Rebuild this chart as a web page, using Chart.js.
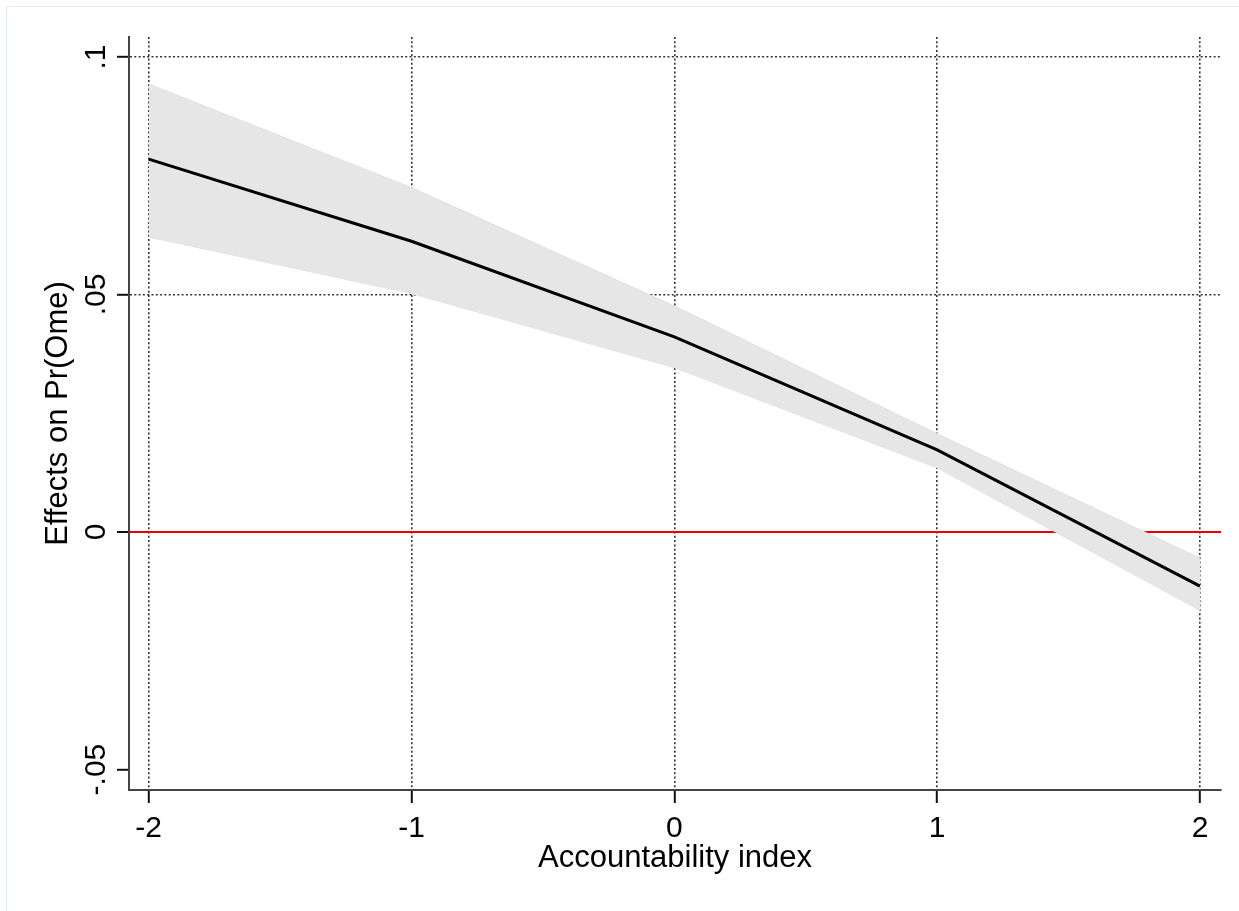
<!DOCTYPE html>
<html>
<head>
<meta charset="utf-8">
<script src="https://cdn.jsdelivr.net/npm/chart.js@4"></script>
<style>
  body { margin: 0; background: #fff; }
  #wrap { position: relative; width: 1239px; height: 911px; }
  #frame { position: absolute; left: 6px; top: 6px; right: 0; bottom: 0;
           border-left: 1px solid #e4ecf0; border-top: 1px solid #e4ecf0; }
  canvas { position: absolute; left: 0; top: 0; }
</style>
</head>
<body>
<div id="wrap">
  <div id="frame"></div>
  <canvas id="chart" width="1239" height="911"></canvas>
</div>
<script>
// marginal effect over the accountability index, with its confidence band
var xValues = [-2, -1, 0, 1, 2];
var effect  = [0.0785, 0.0612, 0.0411, 0.0173, -0.0114];
var upperCI = [0.0943, 0.0725, 0.0476, 0.0207, -0.0055];
var lowerCI = [0.0621, 0.0502, 0.0346, 0.0135, -0.0165];

var xTicks = [-2, -1, 0, 1, 2];
var yTicks = [-0.05, 0, 0.05, 0.1];
var yTickLabels = ["-.05", "0", ".05", ".1"];

var FONT = '"Liberation Sans", Arial, sans-serif';

function points(ys) {
    return xValues.map(function (x, i) { return { x: x, y: ys[i] }; });
}

// y tick labels in Stata are turned on their side, Chart.js can't do that itself
var rotatedYLabels = {
    id: 'rotatedYLabels',
    afterDraw: function (chart) {
        var scale = chart.scales.y;
        var ctx = chart.ctx;
        var baseX = scale.right - 12 - 12;
        ctx.save();
        ctx.fillStyle = '#000';
        ctx.font = '30px ' + FONT;
        ctx.textAlign = 'center';
        ctx.textBaseline = 'alphabetic';
        for (var i = 0; i < yTicks.length; i++) {
            var py = scale.getPixelForValue(yTicks[i]);
            ctx.save();
            ctx.translate(baseX, py);
            ctx.rotate(-Math.PI / 2);
            ctx.fillText(yTickLabels[i], 0, 0);
            ctx.restore();
        }
        ctx.restore();
    }
};

var ctx = document.getElementById('chart').getContext('2d');
var chart = new Chart(ctx, {
    type: 'line',
    data: {
        datasets: [
            {
                label: 'effect',
                data: points(effect),
                borderColor: '#000',
                borderWidth: 3,
                pointRadius: 0,
                tension: 0,
                fill: false,
                order: 0
            },
            {
                label: 'upper',
                data: points(upperCI),
                borderColor: '#e0e0e0',
                borderWidth: 1,
                backgroundColor: '#e6e6e6',
                pointRadius: 0,
                tension: 0,
                fill: '+1',
                order: 1
            },
            {
                label: 'lower',
                data: points(lowerCI),
                borderColor: '#e0e0e0',
                borderWidth: 1,
                pointRadius: 0,
                tension: 0,
                fill: false,
                order: 2
            }
        ]
    },
    options: {
        responsive: false,
        animation: false,
        layout: { padding: { left: 0, top: 37, right: 18, bottom: 0 } },
        plugins: {
            legend: { display: false },
            tooltip: { enabled: false }
        },
        scales: {
            x: {
                type: 'linear',
                min: -2.075,
                max: 2.08,
                afterBuildTicks: function (scale) {
                    scale.ticks = xTicks.map(function (v) { return { value: v }; });
                },
                afterFit: function (scale) { scale.height = 121; },
                grid: {
                    color: '#333',
                    lineWidth: 1.6,
                    tickLength: 13,
                    tickColor: '#111',
                    tickWidth: 2
                },
                border: { display: true, color: '#444', width: 2, dash: [2, 2.3] },
                ticks: {
                    color: '#000',
                    padding: 8,
                    font: { family: FONT, size: 30 },
                    callback: function (v) { return String(v); }
                },
                title: {
                    display: true,
                    text: 'Accountability index',
                    color: '#000',
                    font: { family: FONT, size: 31 },
                    padding: { top: 0, bottom: 34 }
                }
            },
            y: {
                type: 'linear',
                min: -0.0543,
                max: 0.1042,
                afterBuildTicks: function (scale) {
                    scale.ticks = yTicks.map(function (v) { return { value: v }; });
                },
                afterFit: function (scale) { scale.width = 129; },
                grid: {
                    color: function (c) {
                        if (!c.tick) return '#333';
                        if (c.tick.value === 0) return '#e8000b';
                        if (c.tick.value === -0.05) return 'rgba(0,0,0,0)';
                        return '#333';
                    },
                    lineWidth: function (c) {
                        return (c.tick && c.tick.value === 0) ? 2 : 1.6;
                    },
                    tickLength: 12,
                    tickColor: '#111',
                    tickWidth: 2
                },
                border: {
                    display: true,
                    color: '#444',
                    width: 2,
                    dash: function (c) {
                        return (c.tick && c.tick.value === 0) ? [] : [2, 2.3];
                    }
                },
                ticks: {
                    display: true,
                    callback: function () { return ''; }
                },
                title: {
                    display: true,
                    text: 'Effects on Pr(Ome)',
                    color: '#000',
                    font: { family: FONT, size: 31 },
                    padding: { top: 40, bottom: 0 }
                }
            }
        }
    },
    plugins: [rotatedYLabels]
});
</script>
</body>
</html>
